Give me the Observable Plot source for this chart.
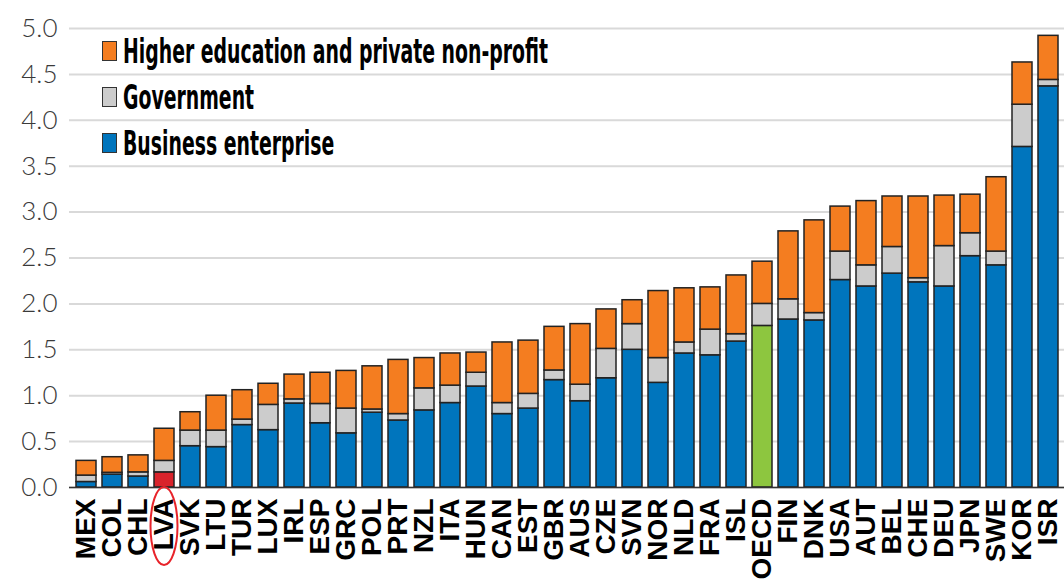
<!DOCTYPE html>
<html><head><meta charset="utf-8">
<script src="https://cdn.jsdelivr.net/npm/d3@7"></script>
<script src="https://cdn.jsdelivr.net/npm/@observablehq/plot@0.6"></script>
<style>
body{margin:0;background:#fff;}
#wrap{position:relative;width:1064px;height:581px;overflow:hidden}
.legend{position:absolute;left:102px;top:28px;font-family:"Liberation Sans Narrow","Arial Narrow","DejaVu Sans Condensed",sans-serif;font-weight:bold;font-size:33px;color:#000;}
.item{display:flex;align-items:center;height:46px;white-space:nowrap}
.sw{width:13px;height:18px;border:1.5px solid #333;margin-right:6px;flex:none}
.lab{display:inline-block;transform-origin:left center;}
</style></head><body><div id="wrap"></div>
<script>
const countries = ["MEX","COL","CHL","LVA","SVK","LTU","TUR","LUX","IRL","ESP","GRC","POL","PRT","NZL","ITA","HUN","CAN","EST","GBR","AUS","CZE","SVN","NOR","NLD","FRA","ISL","OECD","FIN","DNK","USA","AUT","BEL","CHE","DEU","JPN","SWE","KOR","ISR"];
const business   = [0.06,0.14,0.12,0.165,0.45,0.44,0.68,0.625,0.915,0.70,0.59,0.815,0.73,0.84,0.92,1.10,0.80,0.86,1.17,0.94,1.19,1.50,1.14,1.46,1.44,1.59,1.76,1.83,1.82,2.26,2.19,2.33,2.235,2.19,2.52,2.42,3.71,4.37];
const government = [0.07,0.02,0.045,0.125,0.17,0.18,0.06,0.275,0.045,0.21,0.27,0.035,0.07,0.24,0.19,0.15,0.12,0.16,0.105,0.18,0.32,0.28,0.27,0.12,0.28,0.08,0.24,0.22,0.08,0.31,0.23,0.29,0.045,0.44,0.25,0.15,0.46,0.07];
const higher     = [0.16,0.17,0.185,0.35,0.20,0.38,0.32,0.23,0.27,0.34,0.41,0.47,0.59,0.33,0.35,0.22,0.66,0.58,0.475,0.66,0.43,0.26,0.73,0.59,0.46,0.64,0.46,0.74,1.01,0.49,0.70,0.55,0.89,0.55,0.42,0.81,0.46,0.48];
const seriesNames = ["Business enterprise","Government","Higher education and private non-profit"];
const yTicks = [0,0.5,1,1.5,2,2.5,3,3.5,4,4.5,5];

const colors = {"Business enterprise":"#0075BD","Government":"#CCCCCC","Higher education and private non-profit":"#F47D20"};
const highlight = {LVA:"#D9232B", OECD:"#8DC63F"};

const rows = [];
countries.forEach((c,i)=>{
  [business,government,higher].forEach((arr,j)=>rows.push({country:c, series:seriesNames[j], value:arr[i]}));
});
const fillOf = d => (d.series===seriesNames[0] && highlight[d.country]) ? highlight[d.country] : colors[d.series];

const plot = Plot.plot({
  width:1064, height:581,
  marginLeft:69, marginRight:0, marginTop:28, marginBottom:94,
  x:{domain:countries, paddingInner:0.24, paddingOuter:0.12, label:null},
  y:{domain:[0,5], label:null},
  style:{background:"#fff"},
  marks:[
    Plot.gridY(yTicks,{stroke:"#d9d9d9", strokeOpacity:1, strokeWidth:2}),
    Plot.axisY(yTicks,{tickSize:0, tickPadding:12, tickFormat:d3.format(".1f"), fontSize:26, fontWeight:300, fill:"#3a3a3a", fontFamily:"Lato, 'Open Sans', sans-serif", label:null}),
    Plot.barY(rows, Plot.stackY({x:"country", y:"value", fill:fillOf, stroke:"#222", strokeWidth:1.5})),
    Plot.ruleY([0],{stroke:"#333", strokeWidth:1.5}),
    Plot.axisX({tickSize:0, tickPadding:11, tickRotate:-90, fontSize:28, fontWeight:"bold", fill:"#000", fontFamily:"'Liberation Sans', Arial, sans-serif", label:null})
  ]
});
const wrap = document.getElementById("wrap");
wrap.appendChild(plot);

// red ellipse around LVA label
const xs = plot.scale("x"), ys = plot.scale("y");
const cx = xs.apply("LVA") + xs.bandwidth/2;
const cy = ys.apply(0) + 39;
d3.select(plot).append("ellipse").attr("cx",cx).attr("cy",cy).attr("rx",13.5).attr("ry",39)
  .attr("fill","none").attr("stroke","#E8232A").attr("stroke-width",2);

// legend
const leg = document.createElement("div");
leg.className = "legend";
[...seriesNames].reverse().forEach(s=>{
  const it = document.createElement("div"); it.className="item";
  const sw = document.createElement("span"); sw.className="sw"; sw.style.background=colors[s];
  const lab = document.createElement("span"); lab.className="lab"; lab.textContent=s;
  it.appendChild(sw); it.appendChild(lab); leg.appendChild(it);
});
wrap.appendChild(leg);
const labs = leg.querySelectorAll(".lab");
const w0 = labs[0].getBoundingClientRect().width;
const k = 425 / w0;
labs.forEach(l=>l.style.transform=`scaleX(${k})`);
</script>
</body></html>
